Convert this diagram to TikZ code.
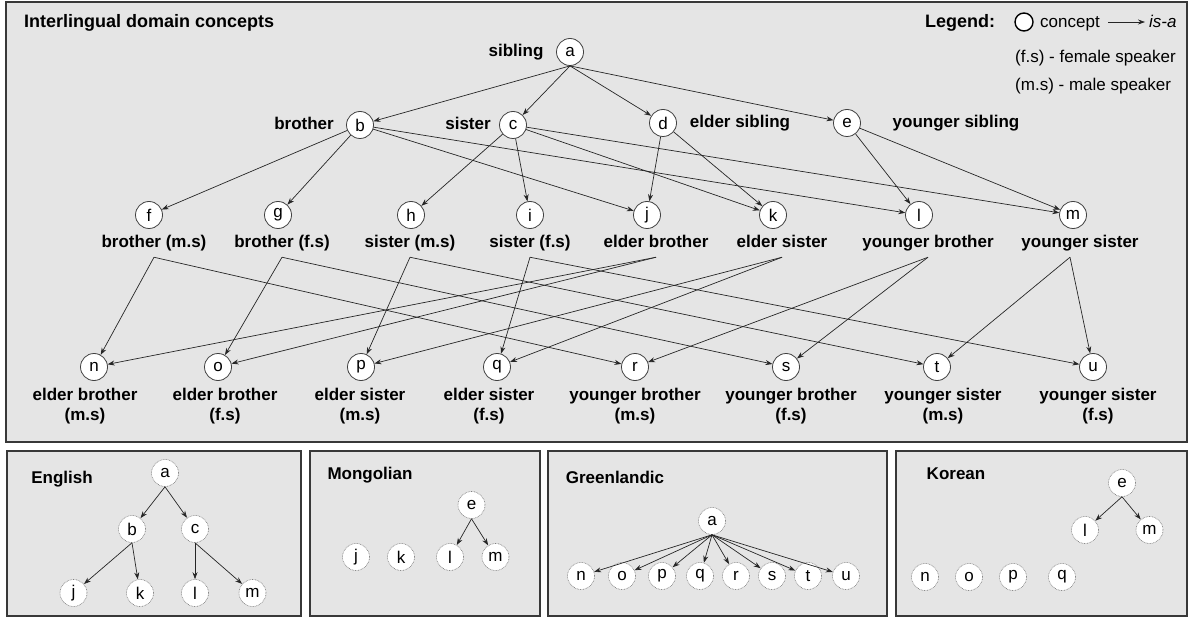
\documentclass[tikz,border=0pt]{standalone}
\usepackage{fontspec}
\setmainfont{Liberation Sans}
\usetikzlibrary{arrows.meta}
\begin{document}
\begin{tikzpicture}[x=1pt,y=-1pt,
  panel/.style={draw=black!78, line width=1.8pt, fill=black!10},
  concept/.style={circle, draw=black!75, fill=white, line width=0.8pt, minimum size=27pt, inner sep=0pt, font=\fontsize{17}{17}\selectfont},
  dconcept/.style={concept, draw=black!50, line width=0.6pt, dash pattern=on 0.8pt off 0.8pt},
  isa/.style={draw=black!85, line width=0.7pt, -{Stealth[length=7pt,width=5pt]}},
  lbl/.style={font=\bfseries\fontsize{17}{20}\selectfont, inner sep=1pt, text height=12.5pt, text depth=3.6pt},
  lbltwo/.style={font=\bfseries\fontsize{17}{20}\selectfont, inner sep=0pt, align=center},
  ttl/.style={font=\bfseries\fontsize{18}{20}\selectfont, inner sep=0pt},
  ptl/.style={font=\bfseries\fontsize{17}{20}\selectfont, inner sep=0pt},
  txt/.style={font=\fontsize{17}{20}\selectfont, inner sep=0pt},
]
\useasboundingbox (0,0) rectangle (1190,617);
\fill[white] (0,0) rectangle (1190,617);

% ---------- panels ----------
\draw[panel] (6,2) rectangle (1187,442);
\draw[panel] (7,451) rectangle (301,616);
\draw[panel] (310,451) rectangle (540,616);
\draw[panel] (548,451) rectangle (887,616);
\draw[panel] (896,451) rectangle (1187,616);

% ---------- titles / legend ----------
\node[ttl, anchor=base west] (title) at (24,28) {Interlingual domain concepts};
\node[ttl, anchor=base west] (legt) at (925,28) {Legend:};
\node[circle, draw=black, line width=1.4pt, fill=white, minimum size=18pt, inner sep=0pt] (legc) at (1024,22) {};
\node[txt, anchor=base west] (legcon) at (1040,28) {concept};
\coordinate (la1) at (1108,22);
\coordinate (la2) at (1145,22);
\draw[isa] (la1) -- (la2);
\node[txt, anchor=base west] (legisa) at (1149,28) {\itshape is-a};
\node[txt, anchor=base west] (legfs) at (1015,63) {(f.s) - female speaker};
\node[txt, anchor=base west] (legms) at (1015,91) {(m.s) - male speaker};

% ---------- main graph ----------
\node[concept] (a) at (570,52) {a};
\node[lbl] (al) at (516,52) {sibling};

\node[concept] (b) at (360,125) {b};
\node[lbl] (bl) at (304,125) {brother};
\node[concept] (c) at (513,125) {c};
\node[lbl] (cl) at (468,125) {sister};
\node[concept] (d) at (663,123) {d};
\node[lbl] (dl) at (740,123) {elder sibling};
\node[concept] (e) at (847,123) {e};
\node[lbl] (el) at (956,123) {younger sibling};

\node[concept] (f) at (149,215) {f};
\node[concept] (g) at (278,215) {g};
\node[concept] (h) at (411,215) {h};
\node[concept] (i) at (530,215) {i};
\node[concept] (j) at (647,215) {j};
\node[concept] (k) at (773,215) {k};
\node[concept] (l) at (919,215) {l};
\node[concept] (m) at (1073,215) {m};

\node[lbl] (fl) at (154,243) {brother (m.s)};
\node[lbl] (gl) at (282,243) {brother (f.s)};
\node[lbl] (hl) at (410,243) {sister (m.s)};
\node[lbl] (il) at (530,243) {sister (f.s)};
\node[lbl] (jl) at (656,243) {elder brother};
\node[lbl] (kl) at (782,243) {elder sister};
\node[lbl] (ll) at (928,243) {younger brother};
\node[lbl] (ml) at (1080,243) {younger sister};

\node[concept] (n) at (94,367) {n};
\node[concept] (o) at (218,367) {o};
\node[concept] (p) at (361,367) {p};
\node[concept] (q) at (497,367) {q};
\node[concept] (r) at (635,367) {r};
\node[concept] (s) at (786,367) {s};
\node[concept] (t) at (937,367) {t};
\node[concept] (u) at (1093,367) {u};

\node[lbltwo] (nl) at (85,406.5) {elder brother\\(m.s)};
\node[lbltwo] (ol) at (225,406.5) {elder brother\\(f.s)};
\node[lbltwo] (pl) at (360,406.5) {elder sister\\(m.s)};
\node[lbltwo] (ql) at (489,406.5) {elder sister\\(f.s)};
\node[lbltwo] (rl) at (635,406.5) {younger brother\\(m.s)};
\node[lbltwo] (sl) at (791,406.5) {younger brother\\(f.s)};
\node[lbltwo] (tl) at (943,406.5) {younger sister\\(m.s)};
\node[lbltwo] (ul) at (1098,406.5) {younger sister\\(f.s)};

% level 1
\foreach \x in {b,c,d,e} \draw[isa] (a.south) -- (\x);
% level 2
\foreach \x in {f,g,j,l} \draw[isa] (b) -- (\x);
\foreach \x in {h,i,k,m} \draw[isa] (c) -- (\x);
\foreach \x in {j,k} \draw[isa] (d) -- (\x);
\foreach \x in {l,m} \draw[isa] (e) -- (\x);
% level 3
\foreach \x in {n,r} \draw[isa] ([yshift=-5pt]fl.south) -- (\x);
\foreach \x in {o,s} \draw[isa] ([yshift=-5pt]gl.south) -- (\x);
\foreach \x in {p,t} \draw[isa] ([yshift=-5pt]hl.south) -- (\x);
\foreach \x in {q,u} \draw[isa] ([yshift=-5pt]il.south) -- (\x);
\foreach \x in {n,o} \draw[isa] ([yshift=-5pt]jl.south) -- (\x);
\foreach \x in {p,q} \draw[isa] ([yshift=-5pt]kl.south) -- (\x);
\foreach \x in {r,s} \draw[isa] ([yshift=-5pt]ll.south) -- (\x);
\foreach \x in {t,u} \draw[isa] ([yshift=-5pt,xshift=-10pt]ml.south) -- (\x);

% ---------- English ----------
\node[ptl, anchor=base] (ent) at (62,483) {English};
\node[dconcept] (ena) at (165,473) {a};
\node[dconcept] (enb) at (132,529) {b};
\node[dconcept] (enc) at (195,529) {c};
\node[dconcept] (enj) at (73.5,593) {j};
\node[dconcept] (enk) at (140,593) {k};
\node[dconcept] (enl) at (195,593) {l};
\node[dconcept] (enm) at (252.5,593) {m};
\draw[isa] (ena.south) -- (enb);
\draw[isa] (ena.south) -- (enc);
\draw[isa] (enb.south) -- (enj);
\draw[isa] (enb.south) -- (enk);
\draw[isa] (enc.south) -- (enl);
\draw[isa] (enc.south) -- (enm);

% ---------- Mongolian ----------
\node[ptl, anchor=base] (mot) at (370,479) {Mongolian};
\node[dconcept] (moe) at (471.5,505) {e};
\node[dconcept] (moj) at (356,557) {j};
\node[dconcept] (mok) at (401,557) {k};
\node[dconcept] (mol) at (450,557) {l};
\node[dconcept] (mom) at (495.5,557) {m};
\draw[isa] (moe.south) -- (mol);
\draw[isa] (moe.south) -- (mom);

% ---------- Greenlandic ----------
\node[ptl, anchor=base] (grt) at (615,483) {Greenlandic};
\node[dconcept] (gra) at (712,521) {a};
\node[dconcept] (grn) at (581,576) {n};
\node[dconcept] (gro) at (622,576) {o};
\node[dconcept] (grp) at (662,576) {p};
\node[dconcept] (grq) at (700,576) {q};
\node[dconcept] (grr) at (736,576) {r};
\node[dconcept] (grs) at (772,576) {s};
\node[dconcept] (grt2) at (808,576) {t};
\node[dconcept] (gru) at (846,576) {u};
\foreach \x in {grn,gro,grp,grq,grr,grs,grt2,gru} \draw[isa] (gra.south) -- (\x);

% ---------- Korean ----------
\node[ptl, anchor=base] (kot) at (956,479) {Korean};
\node[dconcept] (koe) at (1122,483) {e};
\node[dconcept] (kol) at (1085,530) {l};
\node[dconcept] (kom) at (1149.5,530) {m};
\node[dconcept] (kon) at (925,577) {n};
\node[dconcept] (koo) at (969,577) {o};
\node[dconcept] (kop) at (1013,577) {p};
\node[dconcept] (koq) at (1062,577) {q};
\draw[isa] (koe.south) -- (kol);
\draw[isa] (koe.south) -- (kom);
\end{tikzpicture}
\end{document}
